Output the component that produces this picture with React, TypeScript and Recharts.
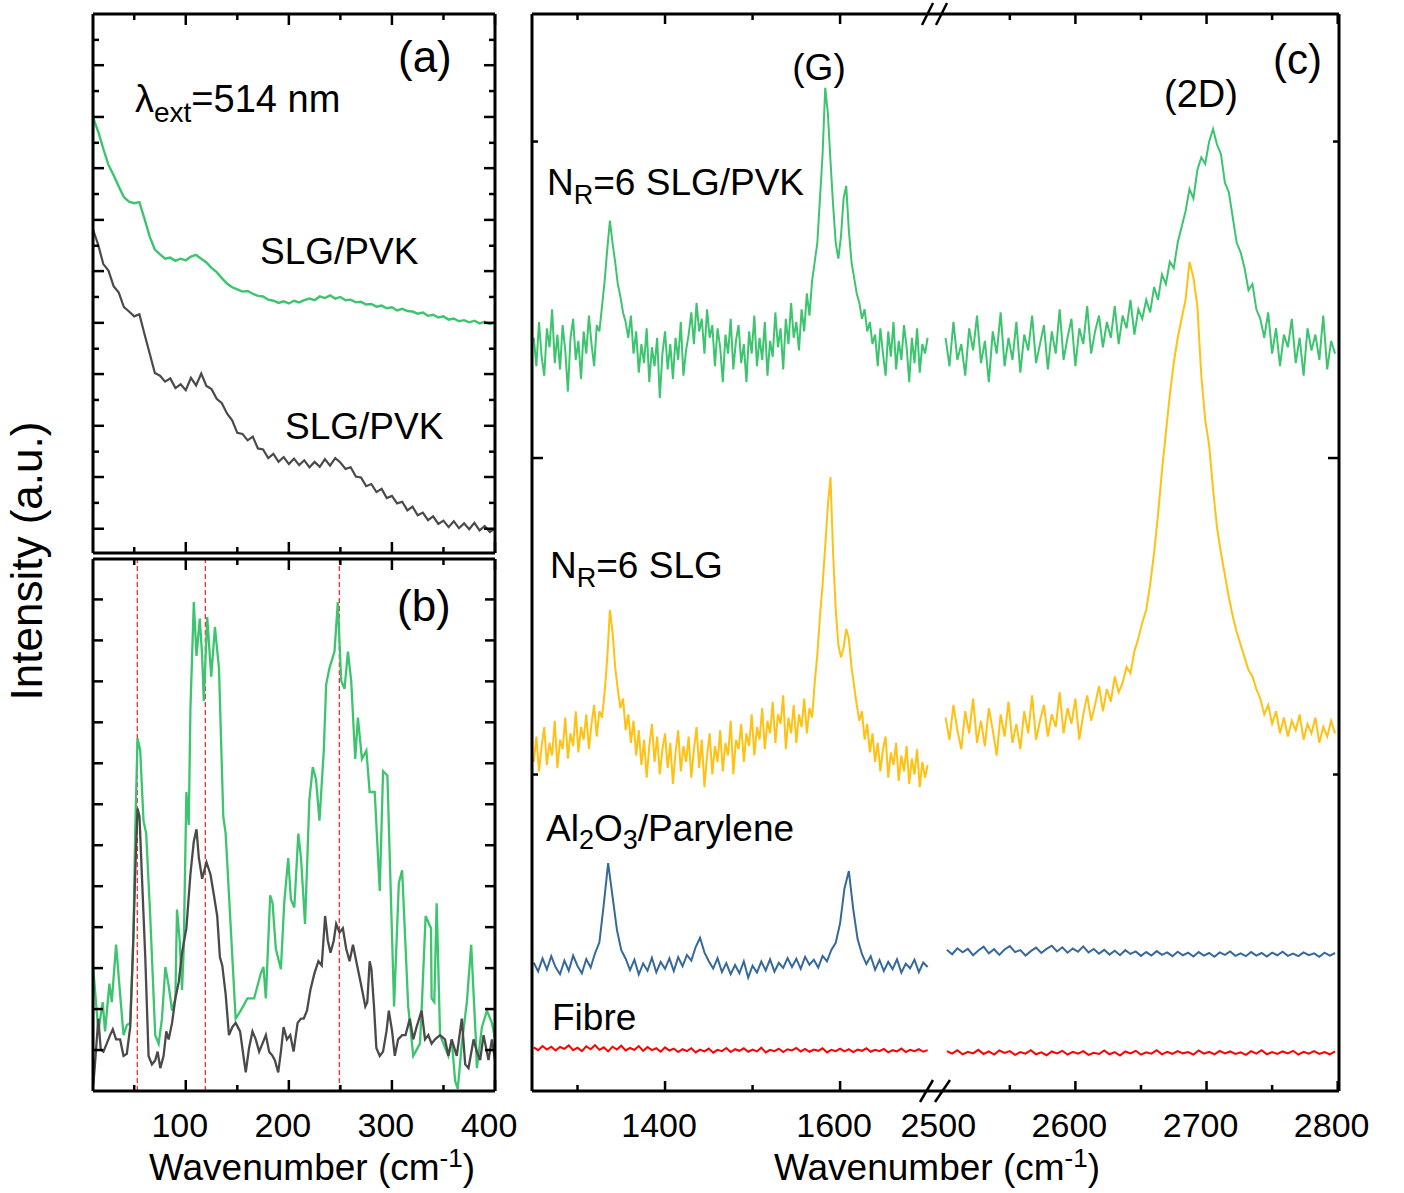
import { LineChart, Line, XAxis, YAxis, ReferenceLine } from 'recharts'

const FONT = '"Liberation Sans", Arial, Helvetica, sans-serif'
const GREEN = '#3DC46F'
const GREY = '#4A4A4A'
const YELLOW = '#FFC114'
const BLUE = '#35699C'
const RED = '#FF0000'
const DASH_RED = '#FF2E2E'

// ---- panel (a): low-wavenumber background, x grid and two traces
const WN_A = [
  10, 15, 20, 25, 30, 35, 40, 45, 50, 55, 60, 65, 70, 75, 80, 85, 90, 95, 100, 105,
  110, 115, 120, 125, 130, 135, 140, 145, 150, 155, 160, 165, 170, 175, 180, 185, 190, 195, 200, 205,
  210, 215, 220, 225, 230, 235, 240, 245, 250, 255, 260, 265, 270, 275, 280, 285, 290, 295, 300, 305,
  310, 315, 320, 325, 330, 335, 340, 345, 350, 355, 360, 365, 370, 375, 380, 385, 390, 395, 400,
]
const A_GREEN = [
  80.8, 78.2, 75.0, 72.0, 70.1, 68.0, 66.0, 65.2, 64.9, 65.1,
  62.0, 58.7, 56.3, 55.4, 54.6, 54.8, 54.2, 54.6, 54.3, 55.0,
  55.3, 54.6, 53.9, 52.9, 52.1, 51.0, 50.0, 49.3, 48.9, 48.5,
  48.6, 48.1, 47.7, 47.6, 47.0, 46.8, 46.4, 46.7, 46.3, 46.8,
  46.5, 46.9, 47.2, 46.9, 47.6, 47.3, 47.8, 47.2, 47.5, 46.9,
  47.0, 46.5, 46.6, 46.1, 46.2, 45.7, 45.9, 45.4, 45.6, 45.0,
  45.3, 44.9, 44.8, 44.4, 44.6, 44.0, 44.2, 43.7, 43.9, 43.3,
  43.5, 43.0, 43.2, 42.8, 43.1, 42.6, 42.9, 42.5, 42.8,
]
const A_GREY = [
  60.0, 57.2, 53.6, 52.4, 49.5, 48.3, 45.6, 44.8, 43.9, 44.3,
  40.6, 37.0, 33.4, 32.9, 31.8, 32.4, 30.6, 31.3, 30.2, 32.5,
  31.1, 33.3, 31.0, 30.4, 28.6, 27.8, 25.9, 24.6, 22.3, 22.1,
  20.9, 21.6, 19.4, 19.2, 17.6, 18.4, 16.9, 17.8, 16.5, 17.5,
  16.3, 17.2, 15.9, 16.9, 16.0, 17.4, 16.2, 17.6, 16.8, 15.6,
  15.9, 14.2, 14.0, 12.4, 12.8, 11.3, 11.9, 10.2, 10.6, 9.2,
  9.5, 7.9, 8.6, 7.0, 7.5, 6.1, 6.8, 5.4, 6.0, 4.8,
  5.9, 4.6, 5.5, 4.4, 5.6, 4.2, 5.0, 3.9, 4.5,
]

// ---- panel (b): background-subtracted low-wavenumber spectra
const B_GREEN_WN = [
  10.3, 15.2, 19.4, 21.7, 25.9, 28.2, 32.4, 36.3, 39.6, 42.8, 46.1, 49.3, 50.9, 53.2, 55.8, 59.0, 61.6, 65.5,
  70.4, 73.7, 76.9, 80.2, 83.4, 86.7, 89.9, 91.5, 94.1, 96.4, 98.0, 100.6, 102.9, 104.5, 107.8, 110.4, 113.6,
  115.9, 117.5, 120.8, 124.7, 128.3, 132.2, 136.4, 138.7, 148.4, 153.3, 159.8, 166.3, 172.8, 175.4, 177.7,
  181.9, 184.2, 187.4, 192.3, 195.5, 199.4, 202.0, 205.3, 209.2, 211.8, 215.7, 219.9, 223.2, 226.4, 229.7,
  233.9, 236.2, 239.4, 244.3, 247.5, 250.8, 254.0, 257.3, 260.5, 264.4, 267.0, 270.9, 275.2, 278.4, 283.3,
  288.2, 291.4, 295.6, 302.1, 306.7, 309.9, 315.8, 320.7, 327.2, 328.8, 332.7, 337.9, 338.5, 341.1, 343.4,
  346.7, 354.8, 358.0, 361.3, 363.9, 367.8, 372.7, 376.9, 381.4, 382.4, 387.3, 392.2, 397.0, 400.0,
]
const B_GREEN = [
  22.9, 11.2, 16.7, 11.2, 20.2, 16.7, 27.5, 18.2, 10.5, 12.4, 12.8, 29.8, 48.4, 66.3, 64.0, 50.8, 48.4, 32.9,
  10.5, 8.9, 13.6, 23.3, 19.8, 15.1, 17.4, 34.1, 28.3, 19.0, 26.7, 56.2, 50.0, 71.7, 91.9, 81.8, 88.8,
  81.8, 73.3, 89.1, 77.9, 87.2, 79.5, 51.6, 48.4, 13.6, 15.1, 17.4, 17.4, 22.1, 23.3, 17.4,
  36.8, 35.3, 26.7, 22.9, 35.3, 43.8, 36.0, 34.5, 48.4, 43.8, 31.4, 54.7, 60.9, 58.5, 50.8,
  64.0, 76.4, 79.5, 82.6, 91.9, 77.1, 75.6, 82.6, 77.1, 62.4, 70.2, 62.4, 64.0, 56.2, 56.2,
  37.6, 60.1, 59.3, 15.9, 39.1, 41.5, 15.9, 6.6, 8.9, 15.1, 32.9, 30.6, 17.4, 16.7, 35.3,
  10.5, 6.6, 9.7, 1.9, 0.4, 8.9, 16.7, 27.5, 9.7, 4.3, 12.0, 15.1, 12.8, 9.7,
]
const B_GREY_WN = [
  10.3, 11.9, 15.2, 17.5, 20.1, 23.3, 26.6, 29.2, 32.4, 36.3, 39.6, 42.8, 46.1, 48.6, 50.9, 53.2, 55.1, 57.4,
  60.7, 63.9, 67.2, 70.4, 72.7, 75.3, 78.5, 81.1, 83.4, 86.7, 89.9, 93.2, 96.4, 100.6, 104.5, 107.8, 110.4,
  112.7, 115.9, 120.1, 124.0, 127.3, 130.5, 133.1, 135.4, 138.7, 141.9, 145.2, 148.4, 152.7, 156.5, 158.2,
  161.4, 164.7, 167.9, 171.2, 174.4, 177.7, 180.9, 184.2, 186.4, 189.7, 192.3, 194.9, 198.1, 201.4, 204.6,
  208.5, 211.8, 214.4, 217.6, 220.9, 224.8, 228.7, 231.9, 235.2, 237.8, 240.4, 243.6, 245.9, 249.2, 252.4,
  255.7, 258.9, 262.2, 265.4, 268.7, 271.9, 274.2, 276.1, 278.4, 280.1, 282.6, 284.9, 288.2, 291.4, 294.7,
  297.0, 300.2, 302.8, 306.0, 309.9, 313.2, 317.4, 320.7, 323.9, 328.8, 332.1, 335.3, 338.5, 341.8, 346.7,
  351.5, 354.8, 358.0, 362.9, 367.8, 371.1, 374.3, 379.2, 382.4, 385.6, 388.9, 393.7, 397.0, 400.0,
]
const B_GREY = [
  1.2, 5.0, 13.6, 7.8, 7.4, 8.9, 10.5, 11.6, 9.7, 9.7, 6.6, 7.0, 12.0, 25.2, 40.7, 53.1, 51.6, 40.7,
  25.2, 6.6, 5.0, 5.8, 7.4, 4.3, 6.6, 11.2, 9.7, 12.8, 17.4, 20.5, 26.0, 30.6, 40.7, 46.9, 49.2,
  43.8, 39.9, 43.0, 40.7, 36.8, 32.9, 25.2, 23.6, 18.2, 10.5, 12.0, 12.8, 11.2, 5.8, 3.5,
  8.1, 11.2, 9.7, 7.4, 8.9, 10.5, 7.4, 6.6, 5.8, 3.5, 7.4, 12.0, 9.7, 10.5, 7.4,
  12.8, 13.6, 13.6, 15.1, 19.0, 22.1, 24.4, 23.6, 32.9, 28.3, 26.0, 28.3, 31.4, 29.8, 30.6,
  26.7, 24.4, 27.5, 24.4, 21.3, 18.2, 15.9, 16.7, 24.4, 22.9, 15.9, 8.1, 6.6, 7.4, 11.2,
  15.1, 11.2, 6.6, 9.7, 10.5, 10.5, 13.6, 9.7, 12.0, 15.1, 9.7, 10.5, 8.9, 9.7, 10.5,
  9.7, 6.6, 9.7, 6.6, 13.6, 5.0, 4.3, 9.7, 7.4, 5.8, 10.5, 5.8, 9.7, 5.8,
]
const B_MODES = [53, 119, 249]

// ---- panel (c): Raman spectra. graphene traces are sampled every 3 cm-1,
// the substrate/fibre traces every 5 (D/G window) and 4 (2D window) cm-1
const WN_FINE_LEFT = [
  1250, 1253, 1256, 1259, 1262, 1265, 1268, 1271, 1274, 1277,
  1280, 1283, 1286, 1289, 1292, 1295, 1298, 1301, 1304, 1307,
  1310, 1313, 1316, 1319, 1322, 1325, 1328, 1331, 1334, 1337,
  1340, 1343, 1346, 1349, 1352, 1355, 1358, 1361, 1364, 1367,
  1370, 1373, 1376, 1379, 1382, 1385, 1388, 1391, 1394, 1397,
  1400, 1403, 1406, 1409, 1412, 1415, 1418, 1421, 1424, 1427,
  1430, 1433, 1436, 1439, 1442, 1445, 1448, 1451, 1454, 1457,
  1460, 1463, 1466, 1469, 1472, 1475, 1478, 1481, 1484, 1487,
  1490, 1493, 1496, 1499, 1502, 1505, 1508, 1511, 1514, 1517,
  1520, 1523, 1526, 1529, 1532, 1535, 1538, 1541, 1544, 1547,
  1550, 1553, 1556, 1559, 1562, 1565, 1568, 1571, 1574, 1577,
  1580, 1583, 1586, 1589, 1592, 1595, 1598, 1601, 1604, 1607,
  1610, 1613, 1616, 1619, 1622, 1625, 1628, 1631, 1634, 1637,
  1640, 1643, 1646, 1649, 1652, 1655, 1658, 1661, 1664, 1667,
  1670, 1673, 1676, 1679, 1682, 1685, 1688, 1691, 1694, 1697,
  1700,
]
const C_GREEN_LEFT = [
  238, 229, 243, 232, 226, 241, 235, 247, 230, 239,
  228, 242, 234, 221, 238, 244, 231, 237, 225, 240,
  233, 245, 236, 229, 242, 240, 248, 256, 266, 275,
  268, 262, 255, 251, 246, 243, 238, 245, 233, 240,
  227, 236, 230, 241, 224, 235, 229, 238, 219, 233,
  240, 228, 236, 225, 238, 231, 243, 226, 234, 239,
  246, 236, 249, 240, 244, 233, 247, 238, 242, 229,
  241, 235, 224, 239, 233, 244, 228, 237, 242, 230,
  236, 224, 240, 233, 245, 229, 238, 231, 243, 226,
  237, 232, 246, 235, 241, 228, 244, 236, 249, 238,
  243, 234, 247, 240, 252, 245, 256, 262, 268, 282,
  296, 317, 309, 294, 280, 268, 263, 270, 282, 286,
  272, 262, 257, 252, 249, 244, 247, 240, 243, 236,
  239, 229, 241, 233, 226, 240, 232, 243, 228, 237,
  231, 242, 235, 224, 238, 230, 241, 227, 236, 233,
  238,
]
const C_YELLOW_LEFT = [
  104, 112, 101, 109, 115, 103, 110, 106, 117, 102,
  111, 108, 118, 105, 113, 109, 120, 107, 115, 111,
  119, 108, 116, 122, 112, 120, 118, 126, 137, 152,
  145, 134, 127, 121, 124, 114, 119, 110, 117, 106,
  114, 103, 111, 99, 109, 116, 104, 112, 100, 108,
  113, 102, 110, 97, 107, 114, 101, 109, 104, 112,
  99, 108, 115, 102, 111, 96, 106, 113, 100, 109,
  104, 114, 101, 110, 106, 117, 100, 111, 108, 116,
  104, 113, 109, 119, 106, 115, 111, 121, 108, 117,
  113, 123, 110, 119, 116, 125, 108, 118, 113, 122,
  110, 119, 115, 124, 113, 121, 118, 129, 138, 150,
  160, 172, 185, 194, 170, 152, 141, 137, 140, 146,
  143, 134, 128, 122, 117, 120, 111, 116, 107, 113,
  104, 110, 101, 108, 112, 99, 107, 103, 110, 98,
  106, 101, 109, 97, 105, 100, 108, 96, 104, 99,
  103,
]
const WN_C_LEFT = [
  1250, 1255, 1260, 1265, 1270, 1275, 1280, 1285, 1290, 1295, 1300, 1305, 1310, 1315, 1320, 1325, 1330, 1335, 1340, 1345,
  1350, 1355, 1360, 1365, 1370, 1375, 1380, 1385, 1390, 1395, 1400, 1405, 1410, 1415, 1420, 1425, 1430, 1435, 1440, 1445,
  1450, 1455, 1460, 1465, 1470, 1475, 1480, 1485, 1490, 1495, 1500, 1505, 1510, 1515, 1520, 1525, 1530, 1535, 1540, 1545,
  1550, 1555, 1560, 1565, 1570, 1575, 1580, 1585, 1590, 1595, 1600, 1605, 1610, 1615, 1620, 1625, 1630, 1635, 1640, 1645,
  1650, 1655, 1660, 1665, 1670, 1675, 1680, 1685, 1690, 1695, 1700,
]
const C_BLUE_LEFT = [
  40.5, 37.8, 41.9, 38.4, 42.6, 39.1, 36.9, 41.2, 38.0, 42.8,
  39.5, 37.2, 41.7, 39.0, 43.5, 47.0, 59.0, 72.0, 61.5, 51.0,
  44.5, 41.8, 38.2, 41.5, 36.8, 40.3, 38.0, 42.1, 37.5, 40.8,
  38.6, 41.9, 37.9, 42.3, 39.4, 43.0, 41.2, 45.5, 48.4, 43.8,
  41.0, 38.7, 42.0, 37.6, 40.4, 36.9, 39.8, 37.2, 41.0, 35.8,
  39.6, 37.4, 40.9, 38.1, 41.6, 37.7, 40.5, 38.9, 42.0, 39.2,
  41.8, 38.6, 42.4, 39.9, 41.5, 39.0, 42.7, 41.0, 44.6, 46.8,
  53.0, 64.0, 69.5, 57.5, 48.0, 43.2, 40.1, 42.6, 38.3, 41.4,
  37.9, 40.8, 38.5, 41.6, 37.4, 40.2, 38.8, 41.5, 37.6, 40.6,
  39.2,
]
const C_RED_LEFT = [
  13.8, 12.9, 14.2, 13.1, 14.0, 12.8, 13.9, 13.3, 14.4, 12.9,
  13.7, 12.6, 14.1, 13.2, 14.5, 13.0, 13.8, 12.5, 14.0, 13.1,
  14.3, 12.8, 13.6, 13.0, 14.2, 12.7, 13.9, 12.9, 13.5, 12.4,
  13.8, 12.8, 13.4, 12.3, 13.2, 12.6, 13.5, 12.2, 13.1, 12.5,
  13.4, 12.1, 13.0, 12.6, 13.6, 12.3, 13.2, 12.7, 13.5, 12.4,
  13.1, 12.5, 13.7, 12.2, 13.0, 12.6, 13.4, 12.3, 13.2, 12.8,
  13.6, 12.5, 13.3, 12.4, 13.1, 12.7, 13.5, 12.2, 13.0, 12.6,
  13.4, 12.5, 13.2, 12.3, 13.1, 12.7, 13.5, 12.4, 13.0, 12.6,
  13.3, 12.2, 12.9, 12.5, 13.4, 12.3, 13.0, 12.6, 13.2, 12.4,
  12.9,
]

const WN_FINE_RIGHT = [
  2501, 2504, 2507, 2510, 2513, 2516, 2519, 2522, 2525, 2528,
  2531, 2534, 2537, 2540, 2543, 2546, 2549, 2552, 2555, 2558,
  2561, 2564, 2567, 2570, 2573, 2576, 2579, 2582, 2585, 2588,
  2591, 2594, 2597, 2600, 2603, 2606, 2609, 2612, 2615, 2618,
  2621, 2624, 2627, 2630, 2633, 2636, 2639, 2642, 2645, 2648,
  2651, 2654, 2657, 2660, 2663, 2666, 2669, 2672, 2675, 2678,
  2681, 2684, 2687, 2690, 2693, 2696, 2699, 2702, 2705, 2708,
  2711, 2714, 2717, 2720, 2723, 2726, 2729, 2732, 2735, 2738,
  2741, 2744, 2747, 2750, 2753, 2756, 2759, 2762, 2765, 2768,
  2771, 2774, 2777, 2780, 2783, 2786, 2789, 2792, 2795, 2798,
]
const C_GREEN_RIGHT = [
  238, 229, 243, 231, 236, 226, 241, 234, 245, 230,
  237, 224, 240, 233, 246, 229, 238, 231, 243, 227,
  239, 234, 245, 230, 236, 242, 228, 240, 233, 247,
  231, 238, 244, 229, 241, 236, 248, 233, 240, 245,
  235, 243, 238, 248, 236, 245, 241, 250, 239, 247,
  244, 250, 246, 254, 250, 258, 255, 262, 260, 268,
  273, 278, 285, 282, 291, 295, 293, 300, 304, 299,
  296, 287, 284, 276, 268, 265, 260, 253, 255, 247,
  244, 238, 246, 233, 241, 229, 239, 235, 244, 230,
  238, 226, 241, 234, 239, 231, 245, 228, 237, 233,
]
const C_YELLOW_RIGHT = [
  118, 111, 122, 114, 108, 120, 113, 124, 110, 117,
  109, 121, 114, 106, 119, 112, 123, 110, 116, 108,
  120, 113, 125, 111, 117, 122, 112, 119, 115, 126,
  113, 121, 116, 124, 111, 119, 125, 117, 122, 128,
  120, 127, 123, 131, 126, 129, 134, 132, 139, 143,
  148, 152, 160, 170, 182, 196, 208, 220, 230, 238,
  244, 250, 262, 257, 248, 226, 212, 204, 190, 178,
  170, 163, 156, 150, 145, 141, 137, 133, 131, 127,
  124, 119, 122, 116, 120, 113, 118, 112, 117, 114,
  119, 111, 116, 113, 118, 110, 115, 112, 117, 113,
]
const WN_C_RIGHT = [
  2502, 2506, 2510, 2514, 2518, 2522, 2526, 2530, 2534, 2538, 2542, 2546, 2550, 2554, 2558, 2562, 2566, 2570, 2574, 2578,
  2582, 2586, 2590, 2594, 2598, 2602, 2606, 2610, 2614, 2618, 2622, 2626, 2630, 2634, 2638, 2642, 2646, 2650, 2654, 2658,
  2662, 2666, 2670, 2674, 2678, 2682, 2686, 2690, 2694, 2698, 2702, 2706, 2710, 2714, 2718, 2722, 2726, 2730, 2734, 2738,
  2742, 2746, 2750, 2754, 2758, 2762, 2766, 2770, 2774, 2778, 2782, 2786, 2790, 2794, 2798,
]
const C_BLUE_RIGHT = [
  44.6, 43.2, 45.1, 43.8, 44.9, 42.9, 44.4, 45.6, 43.5, 44.8,
  43.0, 44.7, 45.8, 43.9, 44.5, 42.8, 44.2, 45.3, 43.6, 44.9,
  45.9, 44.1, 45.4, 43.7, 45.0, 44.0, 45.7, 43.8, 44.9, 43.4,
  44.6, 43.1, 44.3, 42.9, 44.5, 43.3, 44.1, 42.7, 43.9, 42.8,
  44.2, 43.0, 43.8, 42.6, 44.0, 42.9, 43.7, 42.5, 43.9, 42.8,
  43.6, 42.4, 43.8, 43.0, 44.1, 42.7, 43.5, 42.6, 43.9, 42.8,
  43.6, 42.5, 43.7, 42.9, 44.0, 42.7, 43.4, 42.6, 43.8, 42.9,
  43.5, 42.4, 43.7, 42.8, 43.6,
]
const C_RED_RIGHT = [
  12.6, 11.8, 12.9, 11.6, 12.4, 11.9, 13.0, 11.7, 12.5, 11.5,
  12.8, 12.0, 12.6, 11.4, 12.3, 11.8, 12.9, 11.6, 12.2, 11.3,
  12.5, 11.9, 12.7, 11.5, 12.4, 11.8, 12.6, 11.4, 12.1, 11.7,
  12.8, 11.6, 12.3, 11.2, 12.5, 11.9, 12.7, 11.5, 12.2, 11.8,
  12.9, 11.6, 12.4, 11.7, 12.6, 11.9, 12.3, 11.5, 12.8, 11.8,
  12.4, 11.6, 12.7, 11.9, 12.5, 11.7, 12.2, 11.4, 12.6, 11.8,
  12.9, 11.6, 12.3, 11.7, 12.5, 11.9, 12.7, 11.5, 12.4, 11.8,
  12.6, 11.7, 12.3, 11.6, 12.5,
]

// ---- ticks
const X_TICKS_AB = [50, 100, 150, 200, 250, 300, 350, 400]
const X_MAJOR_AB = [100, 200, 300, 400]
const Y_MAJOR_A = [4.5, 14.1, 23.6, 33.2, 42.7, 52.3, 61.8, 71.4, 80.9, 90.5]
const Y_MINOR_A = [9.3, 18.8, 28.4, 37.9, 47.5, 57.0, 66.6, 76.1, 85.7, 95.2]
const Y_TICKS_B = [7.7, 15.4, 23.1, 30.8, 38.5, 46.2, 53.9, 61.6, 69.3, 77.0, 84.7, 92.4]
const X_TICKS_C_LEFT = [1300, 1400, 1500, 1600]
const X_MAJOR_C_LEFT = [1400, 1600]
const X_TICKS_C_RIGHT = [2500, 2550, 2600, 2650, 2700, 2750, 2800]
const X_MAJOR_C_RIGHT = [2500, 2600, 2700, 2800]
const Y_TICKS_C = [100, 200, 300]
const Y_MAJOR_C = [200]

const rowsA = WN_A.map((wn, i) => ({ wn, green: A_GREEN[i], grey: A_GREY[i] }))
const rowsBGreen = B_GREEN_WN.map((wn, i) => ({ wn, v: B_GREEN[i] }))
const rowsBGrey = B_GREY_WN.map((wn, i) => ({ wn, v: B_GREY[i] }))
const rowsGrapheneLeft = WN_FINE_LEFT.map((wn, i) => ({
  wn,
  green: C_GREEN_LEFT[i],
  yellow: C_YELLOW_LEFT[i],
}))
const rowsGrapheneRight = WN_FINE_RIGHT.map((wn, i) => ({
  wn,
  green: C_GREEN_RIGHT[i],
  yellow: C_YELLOW_RIGHT[i],
}))
const rowsRefLeft = WN_C_LEFT.map((wn, i) => ({ wn, blue: C_BLUE_LEFT[i], red: C_RED_LEFT[i] }))
const rowsRefRight = WN_C_RIGHT.map((wn, i) => ({ wn, blue: C_BLUE_RIGHT[i], red: C_RED_RIGHT[i] }))

const frame = { stroke: '#000', strokeWidth: 3 }

type Side = 'bottom' | 'top' | 'left' | 'right'

// inward ticks, labels only under the bottom axis of (b) and (c)
function ticker(
  side: Side,
  majors: number[],
  opts: { labels?: boolean; major?: number; minor?: number; noLine?: number[] } = {},
) {
  const { labels = false, major = 11, minor = 6, noLine = [] } = opts
  return (props: any) => {
    const { x, y, payload } = props
    const v = payload.value
    const isMajor = majors.includes(v)
    const len = isMajor ? major : minor
    let x2 = x
    let y2 = y
    if (side === 'bottom') y2 = y - len
    else if (side === 'top') y2 = y + len
    else if (side === 'left') x2 = x + len
    else x2 = x - len
    return (
      <g>
        {!noLine.includes(v) && (
          <line x1={x} y1={y} x2={x2} y2={y2} stroke='#000' strokeWidth={2.5} />
        )}
        {labels && isMajor && (
          <text
            x={x - 6}
            y={y + 46}
            textAnchor='middle'
            fontSize={34}
            fontFamily={FONT}
            fill='#000'
          >
            {v}
          </text>
        )}
      </g>
    )
  }
}

// axes are 1px deep (a 0px axis is not drawn), margins are 1px smaller to keep the frame in place
const axisBase = {
  type: 'number' as const,
  allowDataOverflow: true,
  tickSize: 0,
  tickMargin: 0,
  tickLine: false,
  interval: 0 as const,
  axisLine: frame,
}

function PanelA() {
  const yTicks = [...Y_MAJOR_A, ...Y_MINOR_A].sort((a, b) => a - b)
  return (
    <div style={{ position: 'absolute', left: 43, top: 4 }}>
      <LineChart
        width={472}
        height={555}
        data={rowsA}
        margin={{ top: 9, right: 19, bottom: 5, left: 49 }}
      >
        <XAxis {...axisBase} dataKey='wn' domain={[10, 400]} height={1} ticks={X_TICKS_AB} tick={ticker('bottom', X_MAJOR_AB)} />
        <XAxis {...axisBase} xAxisId='top' orientation='top' dataKey='wn' domain={[10, 400]} height={1} ticks={X_TICKS_AB} tick={ticker('top', X_MAJOR_AB)} />
        <YAxis {...axisBase} domain={[0, 100]} width={1} ticks={yTicks} tick={ticker('left', Y_MAJOR_A)} />
        <YAxis {...axisBase} yAxisId='r' orientation='right' domain={[0, 100]} width={1} ticks={yTicks} tick={ticker('right', Y_MAJOR_A)} />
        <Line type='linear' dataKey='green' stroke={GREEN} strokeWidth={2.4} dot={false} isAnimationActive={false} />
        <Line type='linear' dataKey='grey' stroke={GREY} strokeWidth={2.2} dot={false} isAnimationActive={false} />
      </LineChart>
    </div>
  )
}

function PanelB() {
  return (
    <div style={{ position: 'absolute', left: 43, top: 549 }}>
      <LineChart width={502} height={644} margin={{ top: 9, right: 49, bottom: 101, left: 49 }}>
        <XAxis {...axisBase} dataKey='wn' domain={[10, 400]} height={1} ticks={X_TICKS_AB} tick={ticker('bottom', X_MAJOR_AB, { labels: true })} />
        <XAxis {...axisBase} xAxisId='top' orientation='top' dataKey='wn' domain={[10, 400]} height={1} ticks={X_TICKS_AB} tick={ticker('top', X_MAJOR_AB)} />
        <YAxis {...axisBase} domain={[0, 100]} width={1} ticks={Y_TICKS_B} tick={ticker('left', Y_TICKS_B, { major: 10 })} />
        <YAxis {...axisBase} yAxisId='r' orientation='right' domain={[0, 100]} width={1} ticks={Y_TICKS_B} tick={ticker('right', Y_TICKS_B, { major: 10 })} />
        {B_MODES.map((m) => (
          <ReferenceLine key={m} x={m} stroke={DASH_RED} strokeWidth={1.3} strokeDasharray='5 3' />
        ))}
        <Line data={rowsBGreen} type='linear' dataKey='v' stroke={GREEN} strokeWidth={2.3} dot={false} isAnimationActive={false} />
        <Line data={rowsBGrey} type='linear' dataKey='v' stroke={GREY} strokeWidth={2.3} dot={false} isAnimationActive={false} />
      </LineChart>
    </div>
  )
}

function PanelCLeft() {
  return (
    <div style={{ position: 'absolute', left: 480, top: 4 }}>
      <LineChart width={459} height={1189} margin={{ top: 9, right: 0, bottom: 101, left: 51 }}>
        <XAxis {...axisBase} dataKey='wn' domain={[1248, 1713]} height={1} ticks={X_TICKS_C_LEFT} tick={ticker('bottom', X_MAJOR_C_LEFT, { labels: true, major: 10 })} />
        <XAxis {...axisBase} xAxisId='top' orientation='top' dataKey='wn' domain={[1248, 1713]} height={1} ticks={X_TICKS_C_LEFT} tick={ticker('top', X_MAJOR_C_LEFT, { major: 10 })} />
        <YAxis {...axisBase} domain={[0, 340.3]} width={1} ticks={Y_TICKS_C} tick={ticker('left', Y_MAJOR_C, { major: 11 })} />
        <Line data={rowsGrapheneLeft} type='linear' dataKey='green' stroke={GREEN} strokeWidth={2} dot={false} isAnimationActive={false} />
        <Line data={rowsGrapheneLeft} type='linear' dataKey='yellow' stroke={YELLOW} strokeWidth={2} dot={false} isAnimationActive={false} />
        <Line data={rowsRefLeft} type='linear' dataKey='blue' stroke={BLUE} strokeWidth={2} dot={false} isAnimationActive={false} />
        <Line data={rowsRefLeft} type='linear' dataKey='red' stroke={RED} strokeWidth={2} dot={false} isAnimationActive={false} />
      </LineChart>
    </div>
  )
}

function PanelCRight() {
  return (
    <div style={{ position: 'absolute', left: 880, top: 4 }}>
      <LineChart width={520} height={1189} margin={{ top: 9, right: 60, bottom: 101, left: 59 }}>
        <XAxis {...axisBase} dataKey='wn' domain={[2496, 2801]} height={1} ticks={X_TICKS_C_RIGHT} tick={ticker('bottom', X_MAJOR_C_RIGHT, { labels: true, major: 10, noLine: [2500] })} />
        <XAxis {...axisBase} xAxisId='top' orientation='top' dataKey='wn' domain={[2496, 2801]} height={1} ticks={X_TICKS_C_RIGHT} tick={ticker('top', X_MAJOR_C_RIGHT, { major: 10, noLine: [2500] })} />
        <YAxis {...axisBase} yAxisId='r' orientation='right' domain={[0, 340.3]} width={1} ticks={Y_TICKS_C} tick={ticker('right', Y_MAJOR_C, { major: 11 })} />
        <YAxis {...axisBase} domain={[0, 340.3]} width={1} hide />
        <Line data={rowsGrapheneRight} type='linear' dataKey='green' stroke={GREEN} strokeWidth={2} dot={false} isAnimationActive={false} />
        <Line data={rowsGrapheneRight} type='linear' dataKey='yellow' stroke={YELLOW} strokeWidth={2} dot={false} isAnimationActive={false} />
        <Line data={rowsRefRight} type='linear' dataKey='blue' stroke={BLUE} strokeWidth={2} dot={false} isAnimationActive={false} />
        <Line data={rowsRefRight} type='linear' dataKey='red' stroke={RED} strokeWidth={2} dot={false} isAnimationActive={false} />
      </LineChart>
    </div>
  )
}

function Annotations() {
  const t = { fontFamily: FONT, fill: '#000' }
  return (
    <svg
      width={1404}
      height={1193}
      style={{ position: 'absolute', left: 0, top: 0, pointerEvents: 'none' }}
    >
      <text {...t} x={398} y={72} fontSize={44}>(a)</text>
      <text {...t} x={135} y={112} fontSize={38}>
        λ<tspan dy={10} fontSize={28}>ext</tspan>
        <tspan dy={-10} fontSize={38}>=514 nm</tspan>
      </text>
      <text {...t} x={260} y={264} fontSize={37}>SLG/PVK</text>
      <text {...t} x={285} y={439} fontSize={37}>SLG/PVK</text>
      <text {...t} x={397} y={621} fontSize={44}>(b)</text>

      <text {...t} x={819} y={80} fontSize={37} textAnchor='middle'>(G)</text>
      <text {...t} x={1201} y={107} fontSize={38} textAnchor='middle'>(2D)</text>
      <text {...t} x={1273} y={74} fontSize={42}>(c)</text>
      <text {...t} x={547} y={195} fontSize={37}>
        N<tspan dy={9} fontSize={27}>R</tspan>
        <tspan dy={-9} fontSize={37}>=6 SLG/PVK</tspan>
      </text>
      <text {...t} x={550} y={578} fontSize={37}>
        N<tspan dy={9} fontSize={27}>R</tspan>
        <tspan dy={-9} fontSize={37}>=6 SLG</tspan>
      </text>
      <text {...t} x={546} y={841} fontSize={37}>
        Al<tspan dy={8} fontSize={27}>2</tspan>
        <tspan dy={-8} fontSize={37}>O</tspan>
        <tspan dy={8} fontSize={27}>3</tspan>
        <tspan dy={-8} fontSize={37}>/Parylene</tspan>
      </text>
      <text {...t} x={552} y={1030} fontSize={37}>Fibre</text>

      <text {...t} x={42} y={561} fontSize={44} textAnchor='middle' transform='rotate(-90 42 561)'>
        Intensity (a.u.)
      </text>
      <text {...t} x={312} y={1180} fontSize={37} textAnchor='middle'>
        Wavenumber (cm<tspan dy={-13} fontSize={26}>-1</tspan>
        <tspan dy={13} fontSize={37}>)</tspan>
      </text>
      <text {...t} x={937} y={1180} fontSize={37} textAnchor='middle'>
        Wavenumber (cm<tspan dy={-13} fontSize={26}>-1</tspan>
        <tspan dy={13} fontSize={37}>)</tspan>
      </text>

      <g stroke='#000' strokeWidth={2.5}>
        <line x1={922} y1={25} x2={933} y2={3} />
        <line x1={936} y1={25} x2={947} y2={3} />
        <line x1={920} y1={1102} x2={933} y2={1080} />
        <line x1={935} y1={1102} x2={950} y2={1080} />
      </g>
    </svg>
  )
}

export default function App() {
  return (
    <div
      style={{
        position: 'absolute',
        left: 0,
        top: 0,
        width: 1404,
        height: 1193,
        background: '#fff',
        fontFamily: FONT,
        overflow: 'hidden',
      }}
    >
      <PanelA />
      <PanelB />
      <PanelCLeft />
      <PanelCRight />
      <Annotations />
    </div>
  )
}
